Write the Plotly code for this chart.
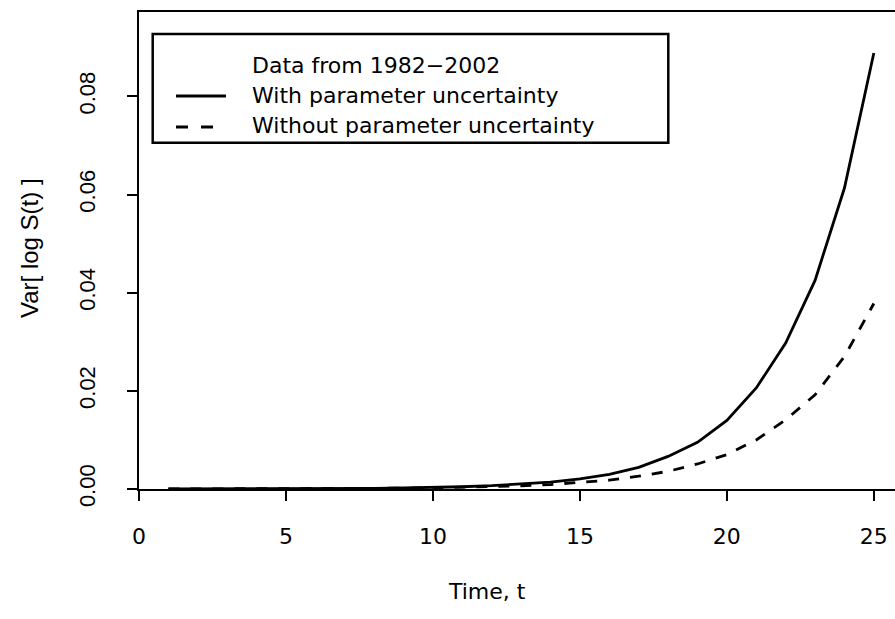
import plotly.graph_objects as go

# ---- data ----
t = list(range(1, 26))
with_unc = [0.000002, 0.000005, 0.00001, 0.00002, 0.00004, 0.00006, 0.00009,
            0.00014, 0.00021, 0.00031, 0.00046, 0.00067, 0.00097, 0.00141, 0.00205,
            0.00300, 0.00440, 0.00664, 0.00950, 0.01398, 0.02058, 0.02975, 0.04251,
            0.06133, 0.08884]
without_unc = [0.000002, 0.000005, 0.00001, 0.00002, 0.00003, 0.00005, 0.00008,
               0.00011, 0.00016, 0.00023, 0.00033, 0.00046, 0.00065, 0.00091, 0.00128,
               0.0018, 0.0026, 0.0036, 0.0051, 0.0070, 0.0100, 0.0141, 0.0192,
               0.0270, 0.0378]
x_ticks = [0, 5, 10, 15, 20, 25]
y_ticks = [0.00, 0.02, 0.04, 0.06, 0.08]
y_tick_labels = ["0.00", "0.02", "0.04", "0.06", "0.08"]
legend_title = "Data from 1982\u22122002"
legend_labels = ["With parameter uncertainty", "Without parameter uncertainty"]

W, H = 895, 619
L, R, T, B = 139, 0, 12, 130
PW, PH = W - L - R, H - T - B

def px(x):
    return (x - L) / PW

def py(y):
    return (H - B - y) / PH

HFONT = "DejaVu Sans"
VFONT = "Liberation Sans"

fig = go.Figure()
fig.add_trace(go.Scatter(x=t, y=with_unc, mode="lines",
                         line=dict(color="black", width=2.8), showlegend=False))
fig.add_trace(go.Scatter(x=t, y=without_unc, mode="lines",
                         line=dict(color="black", width=2.8, dash="11px,11px"),
                         showlegend=False))

fig.update_layout(
    width=W, height=H,
    margin=dict(l=L, r=R, t=T, b=B),
    paper_bgcolor="white", plot_bgcolor="white",
    showlegend=False,
    xaxis=dict(range=[0, 25.72], tickvals=x_ticks, ticktext=[str(v) for v in x_ticks],
               showline=True, linecolor="black", linewidth=2, mirror=True,
               ticks="outside", ticklen=10, tickwidth=2, tickcolor="black",
               showgrid=False, zeroline=False,
               tickfont=dict(family=HFONT, size=22, color="black"),
               ticklabelstandoff=17),
    yaxis=dict(range=[0, 0.0972], tickvals=y_ticks, ticktext=y_tick_labels,
               showline=True, linecolor="black", linewidth=2, mirror=False,
               ticks="outside", ticklen=10, tickwidth=2, tickcolor="black",
               showgrid=False, zeroline=False, tickangle=-90,
               tickfont=dict(family=VFONT, size=22, color="black"),
               ticklabelstandoff=23),
)

# axis titles
fig.add_annotation(text="Time, t", xref="paper", yref="paper", x=px(487), y=py(592),
                   xanchor="center", yanchor="middle", showarrow=False,
                   font=dict(family=HFONT, size=22, color="black"))
fig.add_annotation(text="Var[ log S(t) ]", xref="paper", yref="paper", x=px(30), y=py(248),
                   xanchor="center", yanchor="middle", showarrow=False, textangle=-90,
                   font=dict(family=VFONT, size=24, color="black"))

# legend box
fig.add_shape(type="rect", xref="paper", yref="paper",
              x0=px(152.7), x1=px(668.3), y0=py(142.7), y1=py(34),
              line=dict(color="black", width=2.5), fillcolor="white", layer="above")
fig.add_shape(type="line", xref="paper", yref="paper",
              x0=px(176), x1=px(226), y0=py(96), y1=py(96),
              line=dict(color="black", width=3), layer="above")
fig.add_shape(type="line", xref="paper", yref="paper",
              x0=px(176), x1=px(226), y0=py(127), y1=py(127),
              line=dict(color="black", width=3, dash="12px,13px"), layer="above")
for txt, yc in zip([legend_title] + legend_labels, [66, 96, 126]):
    fig.add_annotation(text=txt, xref="paper", yref="paper", x=px(250), y=py(yc),
                       xanchor="left", yanchor="middle", showarrow=False,
                       font=dict(family=HFONT, size=22, color="black"))

fig.write_html("out.html")
